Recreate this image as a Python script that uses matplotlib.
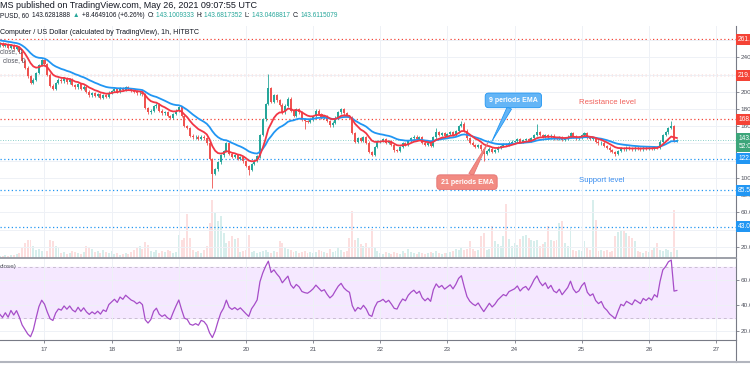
import numpy as np
import pandas as pd
import matplotlib
matplotlib.use("Agg")
import matplotlib.pyplot as plt
import matplotlib.dates as mdates
from matplotlib.lines import Line2D

plt.rcParams['font.family'] = ['Liberation Sans', 'DejaVu Sans']

# ICPUSD (HITBTC) hourly closes, first candle 2021-05-16 08:00
warmup = [274, 271, 273, 269, 270, 266, 268, 265, 266, 262, 264, 260,
          263, 259, 261, 257, 259, 255, 258, 254, 256, 253, 255, 254]   # hidden, before the window
d16 = [256, 253, 255, 251, 254, 250, 252, 246, 236, 228, 218, 210, 214, 222, 231, 237]
d17 = [232, 220, 207, 203, 210, 214, 212, 216, 211, 214, 208, 205, 209, 203, 206, 200, 196, 198, 195, 197, 193, 196, 194, 199]
d18 = [201, 203, 200, 204, 202, 205, 203, 201, 200, 198, 199, 197, 181, 176, 178, 183, 185, 178, 175, 176, 172, 170, 174, 178]
d19 = [182, 172, 160, 158, 149, 147, 148, 145, 148, 146, 140, 122, 105, 110, 118, 126, 131, 140, 128, 124, 126, 122, 124, 119]
d20 = [114, 109, 116, 120, 125, 150, 168, 186, 204, 188, 196, 190, 185, 176, 184, 192, 178, 172, 180, 176, 168, 166, 165, 168]
d21 = [172, 178, 174, 170, 172, 166, 161, 164, 170, 176, 180, 175, 172, 170, 152, 142, 146, 143, 147, 141, 130, 127, 136, 142]
d22 = [143, 145, 141, 143, 138, 132, 131, 136, 140, 138, 143, 146, 148, 145, 147, 141, 138, 140, 137, 147, 153, 150, 152, 149]
d23 = [151, 153, 150, 154, 160, 163, 155, 146, 141, 138, 136, 138, 133, 128, 131, 134, 130, 132, 135, 137, 139, 138, 141, 142]
d24 = [143, 145, 142, 144, 145, 143, 146, 150, 153, 150, 148, 150, 147, 149, 146, 145, 147, 144, 146, 148, 152, 148, 146, 147]
d25 = [150, 152, 147, 145, 146, 142, 140, 141, 137, 135, 132, 130, 128, 131, 134, 133, 135, 134, 133, 135, 134, 133, 135, 134]
d26 = [135, 134, 136, 135, 142, 150, 153, 158, 160, 143.1, 143.6]

# long wicks (candle index -> price)
highs = {96: 221, 156: 158, 165: 166, 192: 162, 240: 166}
lows = {76: 88, 89: 103, 109: 157, 173: 120, 220: 125}

# volume, bar height
v16 = [2, 2, 3, 2, 3, 3, 4, 5, 10, 15, 18, 18, 12, 8, 9, 7]
v17 = [8, 7, 18, 17, 12, 10, 5, 6, 4, 5, 7, 6, 5, 4, 6, 12, 11, 9, 6, 7, 5, 8, 6, 5]
v18 = [7, 4, 5, 3, 4, 5, 4, 6, 8, 10, 12, 9, 16, 13, 7, 6, 8, 5, 7, 6, 8, 7, 5, 6]
v19 = [23, 18, 20, 44, 20, 8, 6, 7, 5, 8, 12, 35, 58, 45, 37, 42, 25, 15, 17, 22, 19, 20, 6, 7]
v20 = [8, 23, 6, 7, 5, 6, 7, 8, 6, 5, 7, 6, 17, 15, 10, 9, 8, 6, 7, 5, 6, 7, 5, 6]
v21 = [5, 6, 8, 7, 6, 5, 9, 6, 7, 10, 8, 6, 7, 20, 47, 18, 20, 14, 12, 15, 10, 29, 10, 7]
v22 = [5, 4, 6, 5, 4, 6, 5, 4, 7, 5, 9, 6, 5, 4, 6, 5, 4, 5, 6, 5, 7, 5, 4, 5]
v23 = [5, 6, 7, 9, 8, 10, 8, 9, 17, 9, 7, 8, 22, 25, 8, 9, 32, 17, 14, 12, 22, 54, 19, 12]
v24 = [15, 13, 19, 22, 23, 20, 18, 17, 18, 12, 14, 16, 32, 18, 17, 18, 35, 37, 15, 12, 30, 8, 7, 8]
v25 = [7, 17, 10, 8, 58, 38, 7, 8, 7, 8, 6, 7, 22, 26, 28, 27, 25, 22, 20, 17, 7, 6, 5, 7]
v26 = [6, 8, 10, 15, 8, 7, 9, 8, 6, 48, 8]

# drawn horizontal levels
resistance = [261, 219, 168]
support = [122, 85.5, 43]
last_price = 143.6

price_ticks = [240, 200, 180, 160, 100, 80, 60, 20]   # the others sit under the level labels
day_labels = ["17", "18", "19", "20", "21", "22", "23", "24", "25", "26", "27"]

W, H = 750, 375
UP, DOWN = '#26a69a', '#ef5350'
GRID = '#eef1f6'
TXT = '#50535e'

closes = np.array(d16 + d17 + d18 + d19 + d20 + d21 + d22 + d23 + d24 + d25 + d26, dtype=float)
volume = np.array(v16 + v17 + v18 + v19 + v20 + v21 + v22 + v23 + v24 + v25 + v26, dtype=float)
n = len(closes)
nw = len(warmup)

full = pd.Series(warmup + list(closes))
ema9 = full.ewm(span=9, adjust=False).mean().values[nw:]
ema21 = full.ewm(span=21, adjust=False).mean().values[nw:]
delta = full.diff()
gain = delta.clip(lower=0).ewm(alpha=1 / 14, adjust=False).mean()
loss = (-delta.clip(upper=0)).ewm(alpha=1 / 14, adjust=False).mean()
rsi = (100 - 100 / (1 + gain / loss)).values[nw:]

opens = np.concatenate([[warmup[-1]], closes[:-1]])
hi = np.maximum(opens, closes) + 1.5
lo = np.minimum(opens, closes) - 1.5
for k, v in highs.items():
    hi[k] = v
for k, v in lows.items():
    lo[k] = v
is_up = closes >= opens

times = pd.date_range("2021-05-16 08:00", periods=n, freq="h")
xs = mdates.date2num(times.to_numpy())
days = mdates.date2num(pd.date_range("2021-05-17", "2021-05-27", freq="D").to_numpy())
px_day = (716 - 44.5) / 10
x_left = days[0] - 44.5 / px_day
x_right = x_left + 736 / px_day
cw = 1 / 24

fig = plt.figure(figsize=(W / 100, H / 100), dpi=100)
rect_main = [0, 1 - 258 / H, 736 / W, 232 / H]
axv = fig.add_axes(rect_main)
ax = fig.add_axes(rect_main, sharex=axv)
ax.patch.set_alpha(0)
axr = fig.add_axes([0, 1 - 340 / H, 736 / W, 82 / H], sharex=axv)

# volume overlay
axv.bar(xs, volume, width=cw * 0.7, color=np.where(is_up, UP, DOWN), alpha=0.18, linewidth=0)
axv.set_ylim(0, 232)
axv.set_axis_off()

# main pane
ax.set_xlim(x_left, x_right)
ax.set_ylim(6.9, 276.4)
ax.set_xticks(days)
ax.set_yticks(np.arange(20, 276, 20), minor=True)
ax.set_yticks(price_ticks)
ax.set_yticklabels([f"{v:.2f}" for v in price_ticks])
ax.grid(True, which='both', color=GRID, lw=0.7, zorder=0)
ax.yaxis.tick_right()
ax.tick_params(axis='y', which='both', length=2.2, width=0.6, color='#787b86', labelsize=4.6,
               labelcolor=TXT, pad=1.2)
ax.tick_params(axis='x', length=0, labelbottom=False)
for s in ['top', 'left', 'bottom']:
    ax.spines[s].set_visible(False)
ax.spines['right'].set_color('#787b86')
ax.spines['right'].set_linewidth(0.8)

for lvl in resistance:
    ax.axhline(lvl, color='#f44336', lw=0.9, ls=(0, (1, 2)), zorder=1)
for lvl in support:
    ax.axhline(lvl, color='#2196f3', lw=0.9, ls=(0, (1, 2)), zorder=1)
ax.axhline(last_price, color=UP, lw=0.6, ls=(0, (1, 2)), alpha=0.7, zorder=1)

cols = np.where(is_up, UP, DOWN)
ax.vlines(xs, lo, hi, colors=cols, lw=0.6, zorder=2)
ax.bar(xs, np.maximum(np.abs(closes - opens), 0.6), bottom=np.minimum(opens, closes),
       width=cw * 0.72, color=cols, linewidth=0, zorder=3)
ax.plot(xs, ema21, color='#2196f3', lw=1.3, zorder=4)
ax.plot(xs, ema9, color='#f23645', lw=1.3, zorder=5)

# right-hand price labels
ytr = ax.get_yaxis_transform()
for lvl in resistance:
    ax.text(1.003, lvl, f"{lvl:.1f}", transform=ytr, fontsize=4.8, color='white', va='center', ha='left',
            bbox=dict(boxstyle='square,pad=0.3', fc='#f44336', ec='none'), clip_on=False, zorder=10)
for lvl in support:
    ax.text(1.003, lvl, f"{lvl:.1f}", transform=ytr, fontsize=4.8, color='white', va='center', ha='left',
            bbox=dict(boxstyle='square,pad=0.3', fc='#2196f3', ec='none'), clip_on=False, zorder=10)
ax.text(1.003, last_price - 2.5, "143.6\n52:04", transform=ytr, fontsize=4.8, color='white',
        va='center', ha='left', linespacing=1.1,
        bbox=dict(boxstyle='square,pad=0.3', fc='#3ca57a', ec='none'), clip_on=False, zorder=10)

# callouts
t9 = mdates.date2num(pd.Timestamp("2021-05-23 23:35"))
t9tip = mdates.date2num(pd.Timestamp("2021-05-23 15:50"))
t21 = mdates.date2num(pd.Timestamp("2021-05-23 07:00"))
t21tip = mdates.date2num(pd.Timestamp("2021-05-23 14:30"))
ax.annotate("9 periods EMA", xy=(t9tip, 142), xytext=(t9, 190), fontsize=5, color='white',
            fontweight='bold', ha='center', va='center', zorder=12,
            bbox=dict(boxstyle='round,pad=0.55,rounding_size=0.5', fc='#64b5f6', ec='#2196f3', lw=0.6),
            arrowprops=dict(arrowstyle='wedge,tail_width=0.7', fc='#64b5f6', ec='#2196f3', lw=0.6,
                            shrinkA=0, shrinkB=0))
ax.annotate("21 periods EMA", xy=(t21tip, 141), xytext=(t21, 95), fontsize=5, color='white',
            fontweight='bold', ha='center', va='center', zorder=12,
            bbox=dict(boxstyle='round,pad=0.55,rounding_size=0.5', fc='#f28b82', ec='#e57373', lw=0.6),
            arrowprops=dict(arrowstyle='wedge,tail_width=0.7', fc='#f28b82', ec='#e57373', lw=0.6,
                            shrinkA=0, shrinkB=0))

def ftext(x, y, s, **kw):
    return fig.text(x / W, 1 - y / H, s, va='center', ha='left', **kw)

ftext(579, 102.7, "Resistance level", fontsize=5.6, color='#f0605a')
ftext(579, 180.7, "Support level", fontsize=5.6, color='#3a8ef0')
ftext(0, 51.7, "close, 0", fontsize=4.7, color=TXT)
ftext(3, 60.7, "close, 0", fontsize=4.7, color=TXT)
ftext(0, 32.3, "Computer / US Dollar (calculated by TradingView), 1h, HITBTC", fontsize=5.1, color='#131722')

# RSI pane
axr.set_ylim(12.7, 77.4)
axr.axhspan(30, 70, color='#f5e8ff', zorder=0)
axr.axhline(70, color='#c9bdd2', lw=0.7, ls=(0, (3, 3)), zorder=1)
axr.axhline(30, color='#c9bdd2', lw=0.7, ls=(0, (3, 3)), zorder=1)
axr.set_yticks([20, 40, 60])
axr.set_yticklabels(["20.00", "40.00", "60.00"])
axr.grid(True, color=GRID, lw=0.7, zorder=0)
axr.plot(xs, rsi, color='#a64dc8', lw=0.9, zorder=3)
axr.yaxis.tick_right()
axr.tick_params(axis='y', length=2.2, width=0.6, color='#787b86', labelsize=4.6, labelcolor=TXT, pad=1.2)
axr.set_xticks(days)
axr.set_xticklabels(day_labels)
axr.tick_params(axis='x', length=2.2, width=0.6, color='#787b86', labelsize=4.6, labelcolor=TXT, pad=3)
for s in ['top', 'left']:
    axr.spines[s].set_visible(False)
for s in ['right', 'bottom']:
    axr.spines[s].set_color('#787b86')
    axr.spines[s].set_linewidth(0.8)
ftext(0, 266.5, "close)", fontsize=4.6, color=TXT)

# pane separator, bottom border
fig.add_artist(Line2D([0, 736 / W], [1 - 258 / H] * 2, color='#9598a1', lw=1.3))
fig.add_artist(Line2D([736 / W] * 2, [1 - 340 / H, 1 - 362 / H], color='#787b86', lw=0.8))
fig.add_artist(Line2D([0, 1], [1 - 361.5 / H] * 2, color='#b2b5be', lw=1.5))

# header
ftext(0, 6, "MS published on TradingView.com, May 26, 2021 09:07:55 UTC", fontsize=6.5, color='#131722')
fig.canvas.draw()
renderer = fig.canvas.get_renderer()
x = 0
for s, c in [("PUSD, 60 ", '#131722'), ("143.6281888 ", '#131722'), ("\u25b2 ", UP),
             ("+8.4649106 (+6.26%) ", '#131722'), ("O:", '#131722'), ("143.1009333 ", UP),
             ("H:", '#131722'), ("143.6817352 ", UP), ("L:", '#131722'), ("143.0468817 ", UP),
             ("C:", '#131722'), ("143.6115079", UP)]:
    t = ftext(x, 15.7, s, fontsize=4.7, color=c)
    x += t.get_window_extent(renderer).width + 1.2

ftext(-38, 367, "TradingView", fontsize=5, color=TXT)

fig.savefig("out.png", dpi=100)
